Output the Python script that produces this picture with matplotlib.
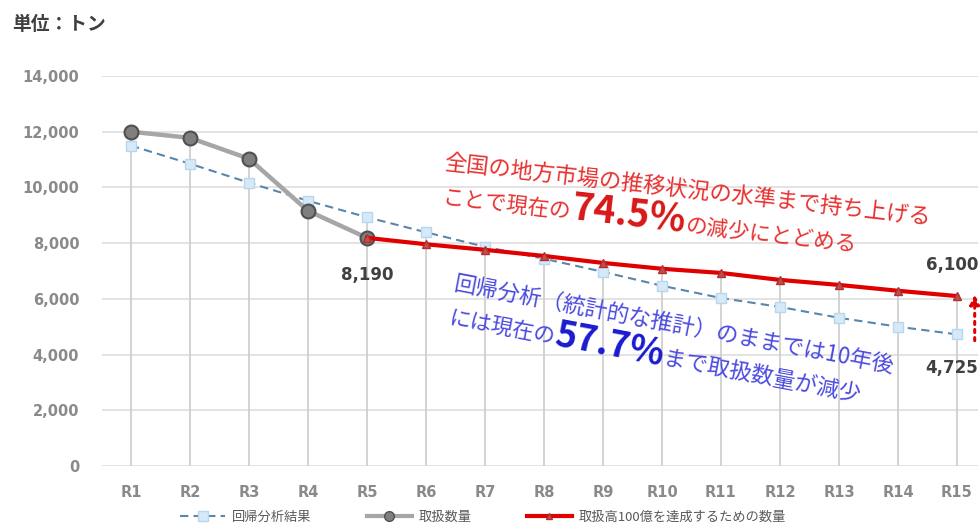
import numpy as np
import matplotlib
matplotlib.use('Agg')
import matplotlib.pyplot as plt
from matplotlib.lines import Line2D

plt.rcParams['font.family'] = ['Noto Sans CJK JP', 'DejaVu Sans']

# データ
labels = ['R1', 'R2', 'R3', 'R4', 'R5', 'R6', 'R7', 'R8', 'R9', 'R10', 'R11', 'R12', 'R13', 'R14', 'R15']
kaiki = [11500, 10850, 10170, 9520, 8930, 8390, 7870, 7440, 6970, 6470, 6030, 5710, 5320, 5000, 4725]
toriatsukai = [12000, 11780, 11030, 9160, 8190] + [np.nan] * 10
mokuhyo = [np.nan] * 4 + [8190, 7960, 7760, 7540, 7290, 7080, 6930, 6680, 6500, 6290, 6100]
yticks = [0, 2000, 4000, 6000, 8000, 10000, 12000, 14000]

W, H = 980, 527
fig = plt.figure(figsize=(W / 100, H / 100), dpi=100)
ax = fig.add_axes([101.5 / W, (H - 466) / H, 59 * 14.85 / W, 390 / H])

x = np.arange(len(labels))

# 縦の補助線（各点から0まで）
tops = np.nanmax(np.vstack([kaiki, toriatsukai, mokuhyo]), axis=0)
ax.vlines(x, 0, tops, color='#d0d0d0', lw=1.3, zorder=1)

ax.plot(x, kaiki, ls=(0, (4, 2.5)), color='#5a86aa', lw=1.5, marker='s', ms=7,
        mfc='#d6e9f7', mec='#b8d6ee', zorder=3)
ax.plot(x, toriatsukai, color='#a6a6a6', lw=3.2, marker='o', ms=10,
        mfc='#7f7f7f', mec='#505050', mew=1.5, zorder=4)
ax.plot(x, mokuhyo, color='#e00000', lw=3, marker='^', ms=6,
        mfc='#c0504d', mec='#b03030', zorder=5)

ax.set_xlim(-0.5, 14.35)
ax.set_ylim(0, 14000)
ax.set_yticks(yticks)
ax.set_yticklabels([f'{v:,}' for v in yticks])
ax.set_xticks(x)
ax.set_xticklabels(labels)
ax.tick_params(length=0, labelsize=10.5, labelcolor='#8a8a8a')
ax.tick_params(axis='y', pad=16)
ax.tick_params(axis='x', pad=14)
for t in ax.get_xticklabels() + ax.get_yticklabels():
    t.set_fontweight('bold')
    t.set_fontfamily('DejaVu Sans')
ax.yaxis.grid(True, color='#e0e0e0', lw=1.3)
ax.set_axisbelow(True)
for s in ax.spines.values():
    s.set_visible(False)

# データラベル
lab = dict(fontsize=12, fontweight='bold', color='#404040', family='DejaVu Sans',
           va='center', clip_on=False)
ax.text(4, 6856, f'{toriatsukai[4]:,}', ha='center', **lab)
ax.text(14.36, 7215, f'{mokuhyo[14]:,}', ha='right', **lab)
ax.text(14.36, 3518, f'{kaiki[14]:,}', ha='right', **lab)

# 矢印
ax.annotate('', xy=(14.3, 6250), xytext=(14.3, 4400),
            arrowprops=dict(arrowstyle='-|>', color='#e00000', lw=2.2, ls=':',
                            mutation_scale=14), annotation_clip=False)

fig.text(12 / W, 1 - 25 / H, '単位：トン', fontsize=13.5, fontweight='bold',
         color='#404040', va='center')

# 回転した注釈テキスト
fig.canvas.draw()
rend = fig.canvas.get_renderer()


def runs_text(x0, y0, angle, runs):
    a = np.deg2rad(angle)
    px, py = x0, H - y0
    for s, size, weight, color in runs:
        fig.text(px / W, py / H, s, fontsize=size, fontweight=weight, color=color,
                 rotation=angle, rotation_mode='anchor', ha='left', va='baseline')
        tmp = fig.text(0, 0, s, fontsize=size, fontweight=weight)
        w = tmp.get_window_extent(rend).width
        tmp.remove()
        px += w * np.cos(a)
        py += w * np.sin(a)


red = '#e83030'
runs_text(443, 170, -6.5, [('全国の地方市場の推移状況の水準まで持ち上げる', 16, 'normal', red)])
runs_text(442, 205, -6.5, [('ことで現在の', 15.5, 'normal', red),
                           ('74.5%', 27, 'bold', '#d81818'),
                           ('の減少にとどめる', 15.5, 'normal', red)])

blue = '#4a4ae0'
runs_text(453, 290, -10.7, [('回帰分析（統計的な推計）のままでは10年後', 16, 'normal', blue)])
runs_text(448, 325, -10.7, [('には現在の', 15.5, 'normal', blue),
                            ('57.7%', 26, 'bold', '#1a1ad0'),
                            ('まで取扱数量が減少', 16, 'normal', blue)])

# 凡例
handles = [
    Line2D([], [], ls=(0, (4, 2.5)), color='#5a86aa', lw=1.5, marker='s', ms=7,
           mfc='#d6e9f7', mec='#b8d6ee'),
    Line2D([], [], color='#a6a6a6', lw=3, marker='o', ms=7, mfc='#7f7f7f', mec='#505050'),
    Line2D([], [], color='#e00000', lw=3, marker='^', ms=5, mfc='#c0504d', mec='#b03030'),
]
fig.legend(handles, ['回帰分析結果', '取扱数量', '取扱高100億を達成するための数量'],
           loc='center', bbox_to_anchor=(483 / W, 1 - 517 / H), ncol=3, frameon=False,
           fontsize=9.5, labelcolor='#595959', handlelength=3.4, handletextpad=0.5,
           columnspacing=4.2)

fig.savefig('out.png', dpi=100)
